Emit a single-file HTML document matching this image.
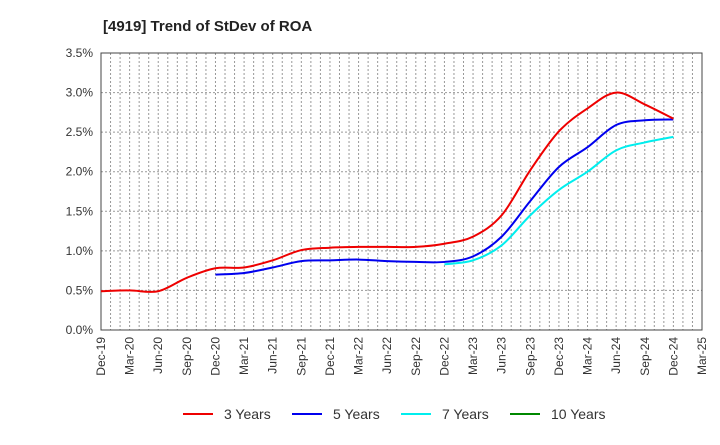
<!DOCTYPE html>
<html><head><meta charset="utf-8"><style>
body{margin:0;background:#fff;font-family:"Liberation Sans",sans-serif}
svg text{font-family:"Liberation Sans",sans-serif}
</style></head><body>
<svg id="chart" width="720" height="440">
<text x="103" y="31" font-size="15" font-weight="bold" fill="#222">[4919]  Trend of StDev of ROA</text>
<g id="grid"></g><g id="axes"></g><g id="series"></g><g id="legend"></g>
</svg>
<script>
const quarters=["Dec-19","Mar-20","Jun-20","Sep-20","Dec-20","Mar-21","Jun-21","Sep-21","Dec-21","Mar-22","Jun-22","Sep-22","Dec-22","Mar-23","Jun-23","Sep-23","Dec-23","Mar-24","Jun-24","Sep-24","Dec-24","Mar-25"];
const yTicks=[0,0.5,1.0,1.5,2.0,2.5,3.0,3.5];
const s3=[0.49,0.50,0.49,0.66,0.78,0.79,0.88,1.01,1.04,1.05,1.05,1.05,1.09,1.18,1.45,2.02,2.51,2.80,3.00,2.85,2.67];
const s5=[null,null,null,null,0.70,0.72,0.79,0.87,0.88,0.89,0.87,0.86,0.86,0.93,1.18,1.63,2.06,2.31,2.59,2.65,2.66];
const s7=[null,null,null,null,null,null,null,null,null,null,null,null,0.83,0.88,1.07,1.45,1.77,2.00,2.27,2.37,2.44];
const s10=[];
const L=101,R=702,T=53,B=330;
const NS="http://www.w3.org/2000/svg";
const xq=i=>L+(R-L)*i/63*3;
const ym=v=>B-(B-T)*v/3.5;
function mk(t,a,p){const e=document.createElementNS(NS,t);for(const k in a)e.setAttribute(k,a[k]);p.appendChild(e);return e;}
const grid=document.getElementById('grid'),axes=document.getElementById('axes'),ser=document.getElementById('series'),leg=document.getElementById('legend');
for(let m=1;m<63;m++){const x=L+(R-L)*m/63;const e=mk('line',{x1:x,x2:x,y1:T,y2:B,stroke:'#999','stroke-dasharray':'2,2'},grid);

}
yTicks.forEach(v=>{const y=ym(v);
if(v>0){const g=mk('line',{x1:L,x2:R,y1:y,y2:y,stroke:'#999','stroke-dasharray':'2,2'},grid);

}
const t=mk('text',{x:L-8,y:y+4,'text-anchor':'end','font-size':12,fill:'#333'},axes);t.textContent=v.toFixed(1)+'%';

});
const fr=mk('rect',{x:L,y:T,width:R-L,height:B-T,fill:'none',stroke:'#444'},axes);


quarters.forEach((q,i)=>{const x=xq(i);const t=mk('text',{transform:`translate(${x+4},${B+7}) rotate(-90)`,'text-anchor':'end','font-size':12,fill:'#333'},axes);t.textContent=q;

});
function path(arr){const pts=[];arr.forEach((v,i)=>{if(v!=null)pts.push([xq(i),ym(v)]);});if(pts.length<2)return '';
let d=`M${pts[0][0]},${pts[0][1]}`;for(let i=0;i<pts.length-1;i++){const p0=pts[Math.max(0,i-1)],p1=pts[i],p2=pts[i+1],p3=pts[Math.min(pts.length-1,i+2)];
const c1=[p1[0]+(p2[0]-p0[0])/6,p1[1]+(p2[1]-p0[1])/6],c2=[p2[0]-(p3[0]-p1[0])/6,p2[1]-(p3[1]-p1[1])/6];
d+=` C${c1[0]},${c1[1]} ${c2[0]},${c2[1]} ${p2[0]},${p2[1]}`;}return d;}
const series=[[s3,'#ee0000','3 Years'],[s5,'#0000ee','5 Years'],[s7,'#00eeee','7 Years'],[s10,'#008800','10 Years']];
[2,1,0,3].forEach(k=>{const [a,c,n]=series[k];const d=path(a);if(!d)return;const p=mk('path',{d:d,fill:'none',stroke:c,'stroke-width':2},ser);

});
const lx=[183,292,401,510];
series.forEach(([a,c,n],i)=>{const g=mk('g',{},leg);


mk('line',{x1:lx[i],x2:lx[i]+30,y1:414,y2:414,stroke:c,'stroke-width':2},g);
const t=mk('text',{x:lx[i]+41,y:419,'font-size':14,fill:'#333'},g);t.textContent=n;});
</script>
</body></html>
